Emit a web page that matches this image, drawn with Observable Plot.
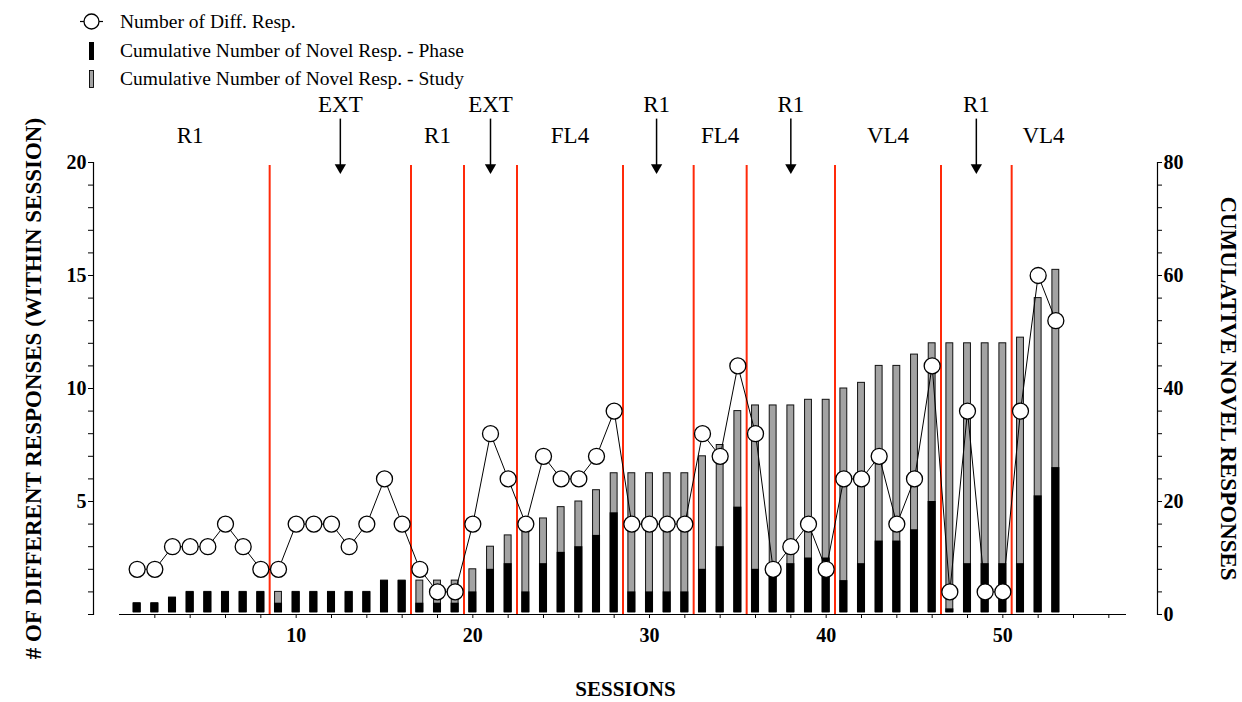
<!DOCTYPE html>
<html>
<head>
<meta charset="utf-8">
<script src="https://cdn.jsdelivr.net/npm/d3@7"></script>
<script src="https://cdn.jsdelivr.net/npm/@observablehq/plot@0.6"></script>
<style>
  html, body { margin: 0; padding: 0; background: #fff; }
  body { font-family: "Liberation Serif", "Times New Roman", serif; width: 1242px; }
  svg { display: block; }
  #legend text { font-size: 19.5px; fill: #000; }
</style>
</head>
<body>
<svg id="legend" width="1242" height="90">
  <line x1="80" x2="103" y1="21.5" y2="21.5" stroke="#000" stroke-width="1.2"></line>
  <circle cx="91.5" cy="21.5" r="7.5" fill="#fff" stroke="#000" stroke-width="1.3"></circle>
  <text x="120" y="28">Number of Diff. Resp.</text>
  <rect x="89" y="42" width="5" height="18" fill="#000"></rect>
  <text x="120" y="57">Cumulative Number of Novel Resp. - Phase</text>
  <rect x="89.5" y="70.5" width="4" height="17" fill="#a3a3a3" stroke="#000" stroke-width="0.9"></rect>
  <text x="120" y="85">Cumulative Number of Novel Resp. - Study</text>
</svg>
<div id="chart"></div>
<script>
// Sessions 1–53
const sessions = d3.range(1, 54);

// Number of different responses emitted within each session (left axis)
const diffResponses = [
  2, 2, 3, 3, 3, 4, 3, 2,
  2, 4, 4, 4, 3, 4, 6, 4,
  2, 1, 1,
  4, 8, 6,
  4, 7, 6, 6, 7, 9,
  4, 4, 4, 4,
  8, 7, 11,
  8, 2, 3, 4, 2,
  6, 6, 7, 4, 6, 11,
  1, 9, 1, 1,
  9, 15, 13
];

// Cumulative novel responses within the current phase (right axis)
const phaseCumulative = [
  2, 2, 3, 4, 4, 4, 4, 4,
  2, 4, 4, 4, 4, 4, 6, 6,
  2, 2, 2,
  4, 8, 9,
  4, 9, 11, 12, 14, 18,
  4, 4, 4, 4,
  8, 12, 19,
  8, 8, 9, 10, 10,
  6, 9, 13, 13, 15, 20,
  1, 9, 9, 9,
  9, 21, 26
];

// Cumulative novel responses across the whole study (right axis)
const studyCumulative = [
  2, 2, 3, 4, 4, 4, 4, 4,
  4, 4, 4, 4, 4, 4, 6, 6,
  6, 6, 6,
  8, 12, 14,
  16, 17, 19, 20, 22, 25,
  25, 25, 25, 25,
  28, 30, 36,
  37, 37, 37, 38, 38,
  40, 41, 44, 44, 46, 48,
  48, 48, 48, 48,
  49, 56, 61
];

// Experimental phases: name, first session, where the name sits, and whether an arrow marks it
const phaseNames   = ["R1", "EXT", "R1", "EXT", "FL4", "R1", "FL4", "R1", "VL4", "R1", "VL4"];
const phaseStarts  = [1, 9, 17, 20, 23, 29, 33, 36, 41, 47, 51];
const phaseLabelAt = [4, 12.5, 18, 21, 25.5, 30.4, 34, 38, 43.5, 48.5, 52.3];
const phaseArrow   = [false, true, false, true, false, true, false, true, false, true, false];

// Axis ticks
const leftTicks = d3.range(0, 21);          // one tick per response
const leftLabels = [5, 10, 15, 20];
const rightLabels = [0, 20, 40, 60, 80];
const xTicks = d3.range(2, 57, 2);
const xLabels = [10, 20, 30, 40, 50];

// Right axis (0–80) shares the plot with the left axis (0–20)
const RATIO = 4;

const rows = sessions.map((s, i) => ({
  session: s,
  diff: diffResponses[i],
  phase: phaseCumulative[i],
  study: studyCumulative[i]
}));

const phases = phaseNames.map((name, i) => ({
  name, start: phaseStarts[i], at: phaseLabelAt[i], arrow: phaseArrow[i]
}));
const boundaries = phaseStarts.slice(1).map(s => s - 0.5);

const serif = '"Liberation Serif", "Times New Roman", serif';
const tickFont = {fontSize: 20, fontWeight: "bold"};

const chart = Plot.plot({
  width: 1242,
  height: 612,
  marginTop: 72,
  marginBottom: 88,
  marginLeft: 93,
  marginRight: 85,
  style: {fontFamily: serif, background: "#fff", overflow: "visible", color: "#000"},
  x: {domain: [0, 57], insetLeft: 26, insetRight: 31, axis: null},
  y: {domain: [0, 20], axis: null},
  marks: [
    // study-wide cumulative bars (grey, outlined)
    Plot.rectY(rows, {
      x1: d => d.session - 0.5, x2: d => d.session + 0.5,
      y1: 0, y2: d => d.study / RATIO,
      fill: "#a3a3a3", stroke: "#111", strokeWidth: 1,
      insetLeft: 5.4, insetRight: 5.4, insetBottom: 2
    }),
    // phase cumulative bars (black)
    Plot.rectY(rows, {
      x1: d => d.session - 0.5, x2: d => d.session + 0.5,
      y1: 0, y2: d => d.phase / RATIO,
      fill: "#000",
      insetLeft: 4.8, insetRight: 4.8, insetBottom: 2
    }),
    // phase change lines
    Plot.ruleX(boundaries, {y1: 0, y2: 20, stroke: "#ff2a0a", strokeWidth: 2, insetBottom: -3}),
    // different responses per session
    Plot.line(rows, {x: "session", y: "diff", stroke: "#000", strokeWidth: 1}),
    Plot.dot(rows, {x: "session", y: "diff", r: 8, fill: "#fff", stroke: "#000", strokeWidth: 1.3}),

    // left axis
    Plot.frame({anchor: "left", stroke: "#000", strokeWidth: 1.2}),
    Plot.axisY(leftTicks, {
      anchor: "left", tickSize: 5, tickPadding: 2, label: null,
      tickFormat: d => leftLabels.includes(d) ? d : "", ...tickFont
    }),
    // right axis
    Plot.frame({anchor: "right", stroke: "#000", strokeWidth: 1.2}),
    Plot.axisY(leftTicks, {
      anchor: "right", tickSize: 4, tickPadding: 2, label: null,
      tickFormat: d => rightLabels.includes(d * RATIO) ? d * RATIO : "", ...tickFont
    }),
    // bottom axis
    Plot.ruleY([0], {x1: 0, x2: 57, stroke: "#000", strokeWidth: 1.2}),
    Plot.axisX(xTicks, {
      anchor: "bottom", tickSize: 4, tickPadding: 9, label: null,
      tickFormat: d => xLabels.includes(d) ? d : "", ...tickFont
    }),

    // axis titles
    Plot.text(["SESSIONS"], {frameAnchor: "bottom", dy: 75, fontSize: 21, fontWeight: "bold", lineAnchor: "middle"}),
    Plot.text(["# OF DIFFERENT RESPONSES (WITHIN SESSION)"], {
      frameAnchor: "left", dx: -60, rotate: -90, textAnchor: "middle",
      fontSize: 23, fontWeight: "bold", lineAnchor: "middle"
    }),
    Plot.text(["CUMULATIVE NOVEL RESPONSES"], {
      frameAnchor: "right", dx: 71, rotate: 90, textAnchor: "middle",
      fontSize: 23, fontWeight: "bold", lineAnchor: "middle"
    }),

    // phase names
    Plot.text(phases.filter(p => !p.arrow), {
      x: "at", text: "name", frameAnchor: "top", dy: -27, fontSize: 23, lineAnchor: "middle"
    }),
    Plot.text(phases.filter(p => p.arrow), {
      x: "at", text: "name", frameAnchor: "top", dy: -58, fontSize: 23, lineAnchor: "middle"
    }),
    // arrows pointing down at the marked phases
    Plot.ruleX(phases.filter(p => p.arrow), {x: "at", y1: 21.92, y2: 19.85, stroke: "#000", strokeWidth: 1.5}),
    Plot.dot(phases.filter(p => p.arrow), {
      x: "at", frameAnchor: "top", dy: 5, symbol: "triangle", rotate: 180, r: 4.2, fill: "#000", stroke: "none"
    })
  ]
});

document.getElementById("chart").appendChild(chart);
</script>
</body>
</html>
